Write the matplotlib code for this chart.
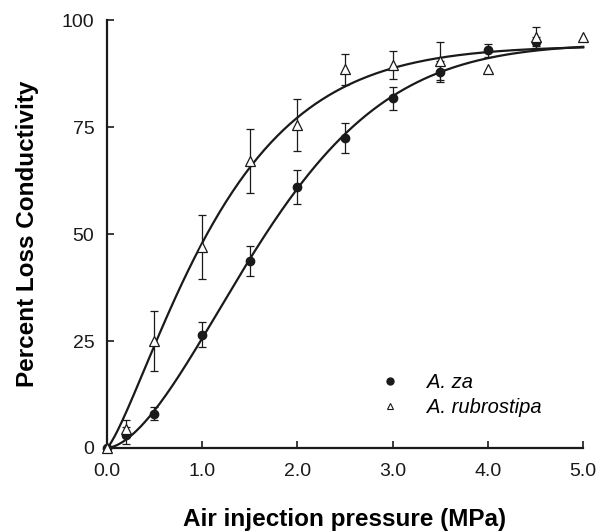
import numpy as np
import matplotlib
matplotlib.use("Agg")
import matplotlib.pyplot as plt
from matplotlib.lines import Line2D

plt.rcParams['font.family'] = ['Liberation Sans', 'DejaVu Sans']

# pressure steps (MPa)
x_za = [0.0, 0.2, 0.5, 1.0, 1.5, 2.0, 2.5, 3.0, 3.5, 4.0, 4.5]
y_za = [0.0, 3.0, 8.0, 26.5, 43.7, 61.0, 72.5, 81.7, 88.0, 93.0, 95.0]
e_za = [0.0, 2.0, 1.5, 3.0, 3.5, 4.0, 3.5, 2.7, 2.5, 1.5, 1.0]

x_rub = [0.0, 0.2, 0.5, 1.0, 1.5, 2.0, 2.5, 3.0, 3.5, 4.0, 4.5, 5.0]
y_rub = [0.0, 4.5, 25.0, 47.0, 67.0, 75.5, 88.5, 89.5, 90.5, 88.5, 96.0, 96.0]
e_rub = [0.0, 2.0, 7.0, 7.5, 7.5, 6.0, 3.7, 3.3, 4.5, 0.0, 2.5, 0.0]

# Weibull fit parameters (plateau, scale, shape)
fit_za = (94.5, 1.97, 1.70)
fit_rub = (94.0, 1.305, 1.276)


def weibull(x, a, b, c):
    return a * (1 - np.exp(-(x / b) ** c))


fig = plt.figure(figsize=(6.0, 5.32), dpi=100)
ax = fig.add_axes([0.178, 0.158, 0.794, 0.804])

xs = np.linspace(0, 5, 300)
ax.plot(xs, weibull(xs, *fit_za), color='#1a1a1a', lw=1.6, zorder=2, clip_on=False)
ax.plot(xs, weibull(xs, *fit_rub), color='#1a1a1a', lw=1.6, zorder=2, clip_on=False)

# error bars only where there is a value
for xv, yv, ev in zip(x_za, y_za, e_za):
    if ev > 0:
        ax.errorbar(xv, yv, yerr=ev, fmt='none', ecolor='#1a1a1a', elinewidth=0.9,
                    capsize=3, capthick=0.9, zorder=3)
for xv, yv, ev in zip(x_rub, y_rub, e_rub):
    if ev > 0:
        ax.errorbar(xv, yv, yerr=ev, fmt='none', ecolor='#1a1a1a', elinewidth=0.9,
                    capsize=3, capthick=0.9, zorder=3)

ax.plot(x_za, y_za, 'o', color='#1a1a1a', ms=6, ls='none', zorder=4, clip_on=False)
ax.plot(x_rub, y_rub, '^', mfc='white', mec='#1a1a1a', mew=0.9, ms=6.5, ls='none',
        zorder=5, clip_on=False)

ax.set_xlim(0, 5)
ax.set_ylim(0, 100)
ax.set_xticks([0, 1, 2, 3, 4, 5])
ax.set_xticklabels(['0.0', '1.0', '2.0', '3.0', '4.0', '5.0'])
ax.set_yticks([0, 25, 50, 75, 100])
ax.tick_params(direction='in', length=5, width=1.2, labelsize=14, colors='#1a1a1a')
ax.tick_params(axis='x', pad=11)
ax.tick_params(axis='y', pad=9)
for s in ['top', 'right']:
    ax.spines[s].set_visible(False)
for s in ['left', 'bottom']:
    ax.spines[s].set_linewidth(1.6)
    ax.spines[s].set_color('#1a1a1a')

ax.set_xlabel('Air injection pressure (MPa)', fontsize=17.5, fontweight='bold', labelpad=20)
ax.set_ylabel('Percent Loss Conductivity', fontsize=17.5, fontweight='bold', labelpad=16)

handles = [Line2D([], [], marker='o', ls='none', color='#1a1a1a', ms=5),
           Line2D([], [], marker='^', ls='none', mfc='white', mec='#1a1a1a', mew=0.8, ms=5)]
leg = ax.legend(handles, ['A. za', 'A. rubrostipa'], loc='lower left',
                bbox_to_anchor=(0.535, 0.03), frameon=False, handlelength=1.0,
                handletextpad=1.35, labelspacing=0.3,
                prop={'style': 'italic', 'size': 14.5})

fig.savefig('out.png', dpi=100)
